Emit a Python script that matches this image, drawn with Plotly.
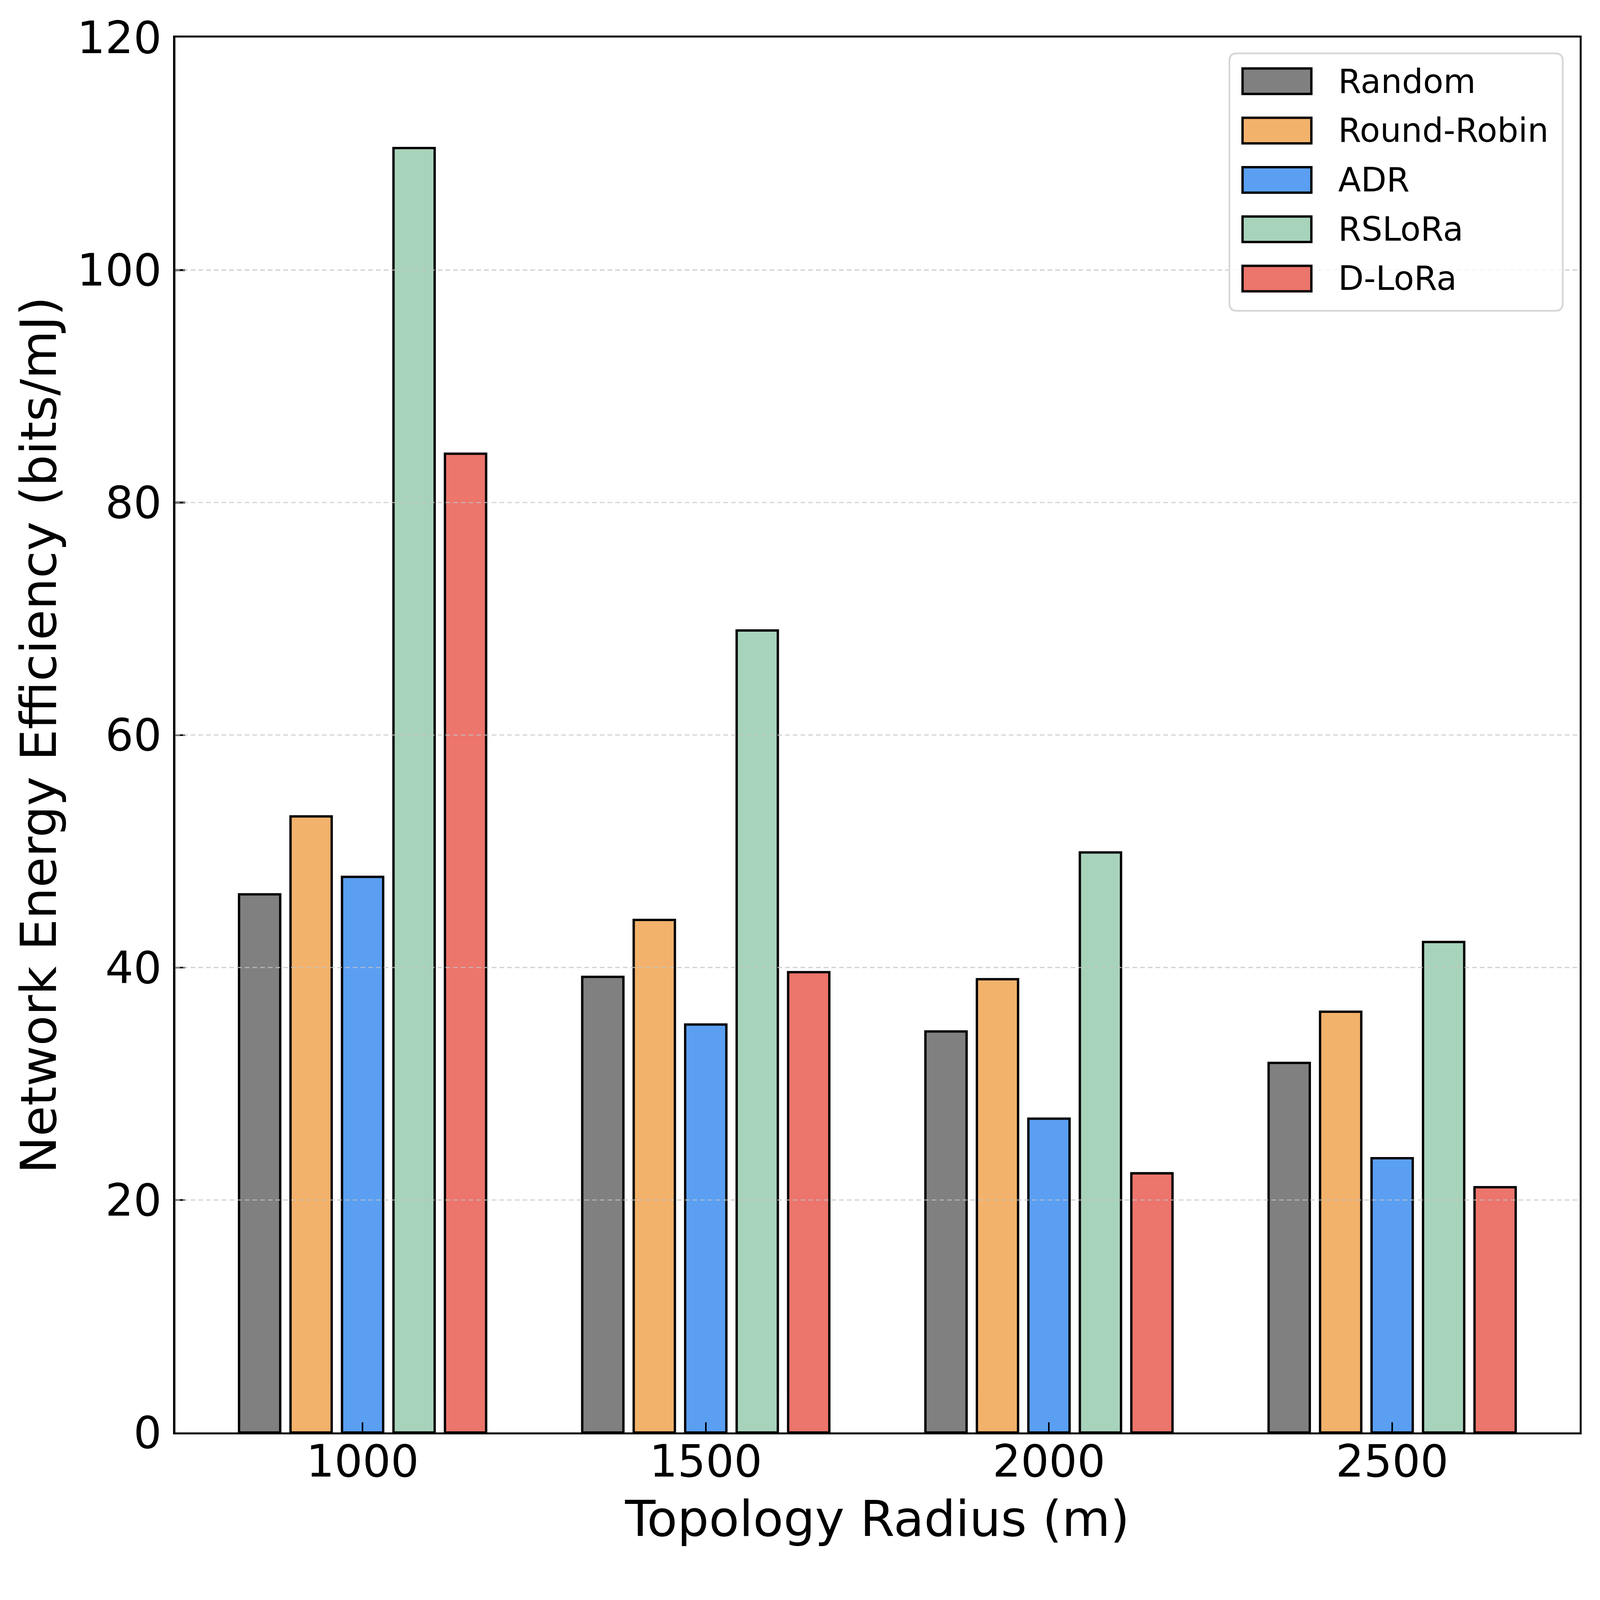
import plotly.graph_objects as go

# ---- data ----
radii = ["1000", "1500", "2000", "2500"]
series_names = ["Random", "Round-Robin", "ADR", "RSLoRa", "D-LoRa"]
random_vals = [46.3, 39.2, 34.5, 31.8]
round_robin_vals = [53.0, 44.1, 39.0, 36.2]
adr_vals = [47.8, 35.1, 27.0, 23.6]
rslora_vals = [110.5, 69.0, 49.9, 42.2]
dlora_vals = [84.2, 39.6, 22.3, 21.1]
y_ticks = [0, 20, 40, 60, 80, 100, 120]

series_values = [random_vals, round_robin_vals, adr_vals, rslora_vals, dlora_vals]
colors = ["#808080", "#F3B26B", "#5A9FF2", "#A8D3BB", "#EC756C"]

W, H = 4767, 4666
ML, MR, MT, MB = 522, 61, 112, 398
FONT = "DejaVu Sans"
EDGE = 7

fig = go.Figure()
for name, vals, col in zip(series_names, series_values, colors):
    fig.add_trace(go.Bar(
        x=radii, y=vals, name=name,
        marker=dict(color=col, line=dict(color="black", width=EDGE)),
        showlegend=False,
    ))

# grid lines drawn above bars (as in the reference)
grid_style = dict(color="rgba(195,195,195,0.85)", width=3, dash="14px,9px")
for v in y_ticks[1:-1]:
    fig.add_shape(type="line", xref="paper", yref="y", x0=0, x1=1, y0=v, y1=v,
                  line=grid_style, layer="above")
for r in radii:
    fig.add_shape(type="line", xref="x", yref="paper", x0=r, x1=r, y0=0, y1=1,
                  line=grid_style, layer="above")

# ---- custom legend (matplotlib-like) ----
pw = W - ML - MR
ph = H - MT - MB
def px_x(p):
    return (p - ML) / pw
def px_y(p):
    return (H - MB - p) / ph

bx0, bx1, by0, by1 = px_x(3663), px_x(4656), px_y(926), px_y(159)
rx, ry = 22 / pw, 22 / ph
path = (f"M{bx0+rx},{by1} L{bx1-rx},{by1} Q{bx1},{by1} {bx1},{by1-ry} "
        f"L{bx1},{by0+ry} Q{bx1},{by0} {bx1-rx},{by0} "
        f"L{bx0+rx},{by0} Q{bx0},{by0} {bx0},{by0+ry} "
        f"L{bx0},{by1-ry} Q{bx0},{by1} {bx0+rx},{by1} Z")
fig.add_shape(type="path", xref="paper", yref="paper", path=path,
              fillcolor="rgba(255,255,255,0.8)", line=dict(color="#D5D5D5", width=5),
              layer="above")
row0, row_step = 242, 147
for i, (name, col) in enumerate(zip(series_names, colors)):
    cy = row0 + i * row_step
    fig.add_shape(type="rect", xref="paper", yref="paper",
                  x0=px_x(3702), x1=px_x(3907), y0=px_y(cy + 38), y1=px_y(cy - 38),
                  fillcolor=col, line=dict(color="black", width=EDGE), layer="above")
    fig.add_annotation(x=px_x(3985), y=px_y(cy), xref="paper", yref="paper",
                       text=name, showarrow=False, xanchor="left", yanchor="middle",
                       font=dict(family=FONT, size=99, color="black"))

fig.update_layout(
    width=W, height=H,
    margin=dict(l=ML, r=MR, t=MT, b=MB, pad=0),
    paper_bgcolor="white", plot_bgcolor="white",
    barmode="group", bargap=0.25, bargroupgap=0.2,
    font=dict(family=FONT, color="black"),
)
fig.update_xaxes(
    type="category", range=[-0.546, 3.546],
    showline=True, linecolor="black", linewidth=6, mirror=True,
    ticks="inside", ticklen=30, tickwidth=5, tickcolor="black",
    tickfont=dict(family=FONT, size=132, color="black"),
    ticklabelstandoff=-33,
    showgrid=False, zeroline=False,
    title=dict(text="Topology Radius (m)", font=dict(family=FONT, size=148, color="black"), standoff=45),
    automargin=False,
)
fig.update_yaxes(
    range=[0, 120], tickvals=y_ticks, ticktext=[str(v) for v in y_ticks],
    showline=True, linecolor="black", linewidth=6, mirror=True,
    ticks="inside", ticklen=30, tickwidth=5, tickcolor="black",
    tickfont=dict(family=FONT, size=132, color="black"),
    ticklabelstandoff=8,
    showgrid=False, zeroline=False,
    title=dict(text="Network Energy Efficiency (bits/mJ)", font=dict(family=FONT, size=148, color="black"), standoff=14),
    automargin=False,
)

# fit the fixed-size figure exactly into the browser window (device-pixel independent)
fit_js = (
    "document.documentElement.style.margin='0';document.body.style.margin='0';"
    "document.body.style.overflow='hidden';"
    "var gd=document.getElementById('{plot_id}');"
    f"var s=Math.min(window.innerWidth/{W}, window.innerHeight/{H});"
    "gd.style.transformOrigin='0 0';gd.style.transform='scale('+s+')';"
)
fig.write_html("out.html", post_script=fit_js, config={"displayModeBar": False})
